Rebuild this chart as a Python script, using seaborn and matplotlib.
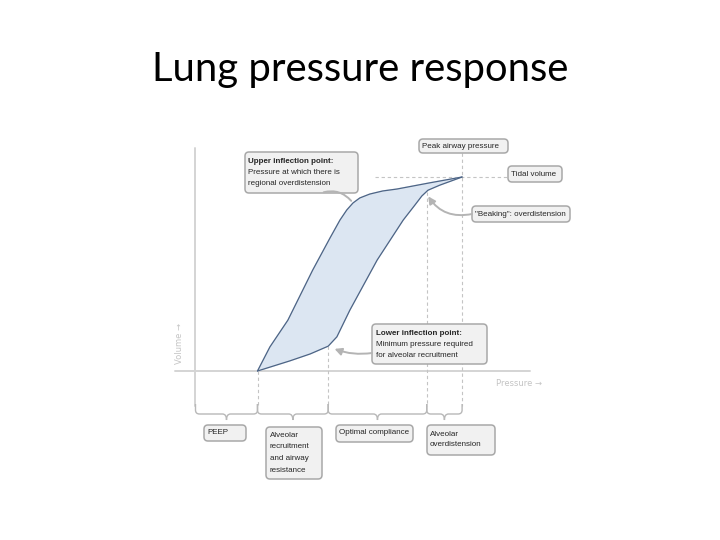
import matplotlib.pyplot as plt
import seaborn as sns
from matplotlib.patches import FancyBboxPatch, PathPatch
from matplotlib.path import Path

# pressure (cmH2O) / volume (mL)
upper_p = [10, 12.0, 14.9, 18.9, 21.7, 23.3, 24.4, 25.4, 26.5, 28.1, 30.2, 32.5, 37.8, 43]
upper_v = [0, 62, 131, 260, 343, 389, 415, 433, 446, 456, 464, 469, 485, 500]
lower_p = [10, 15.2, 18.5, 21.4, 22.8, 24.9, 29.3, 33.5, 35.4, 36.5, 37.5, 39.4, 43]
lower_v = [0, 26, 44, 64, 88, 157, 286, 389, 428, 451, 466, 479, 500]

peep = 10
lip_p, lip_v = 21.4, 64
uip_p = 37.3
peak_p = 43
tidal_v = 500

# zones under the pressure axis
zone_edges = [0, peep, lip_p, uip_p, peak_p]

sns.set_theme(style="white")
plt.rcParams['font.family'] = ['Liberation Sans', 'DejaVu Sans']

fig = plt.figure(figsize=(7.2, 5.4), dpi=100)

# data axes: origin at pixel (195.5, 371), 6.2 px / cmH2O, 0.388 px / mL
x0, y0, sx, sy = 195.5, 371, 6.2, 0.388
ax = fig.add_axes([0, 0, 1, 1])
ax.set_xlim(-x0 / sx, (720 - x0) / sx)
ax.set_ylim(-(540 - y0) / sy, y0 / sy)
ax.axis('off')

# layout layer in pixels for boxes and labels
lay = fig.add_axes([0, 0, 1, 1], zorder=3)
lay.set_xlim(0, 720)
lay.set_ylim(540, 0)
lay.axis('off')
lay.patch.set_alpha(0)

def to_px(p, v):
    return lay.transData.inverted().transform(ax.transData.transform((p, v)))

grey = '#d4d4d4'
low = -(406 - y0) / sy

# axes lines
ax.plot([0, 0], [(y0 - 148) / sy, low], color=grey, lw=1.4, zorder=1)
ax.plot([-3.3, 54], [0, 0], color=grey, lw=1.4, zorder=1)

# dashed guides
dash = dict(color='#c4c4c4', lw=0.8, ls=(0, (3, 2.5)), zorder=1)
ax.plot([peep, peep], [0, low], **dash)
ax.plot([lip_p, lip_p], [lip_v, low], **dash)
ax.plot([uip_p, uip_p], [461, low], **dash)
ax.plot([peak_p, peak_p], [(y0 - 153) / sy, low], **dash)
ax.plot([29, (508 - x0) / sx], [tidal_v, tidal_v], **dash)

# loop
ax.fill(upper_p + lower_p[::-1], upper_v + lower_v[::-1], color='#dce6f2', zorder=2)
sns.lineplot(x=upper_p, y=upper_v, sort=False, ax=ax, color='#4d6485', lw=0.9, zorder=3)
sns.lineplot(x=lower_p, y=lower_v, sort=False, ax=ax, color='#4d6485', lw=0.9, zorder=3)

# braces
for a, b in zip(zone_edges[:-1], zone_edges[1:]):
    xa = to_px(a, 0)[0]
    xb = to_px(b, 0)[0]
    m = (xa + xb) / 2
    verts = [(xa, 404), (xa, 410), (xa, 414), (xa + 4, 414), (m - 4, 414), (m, 414), (m, 420),
             (m, 414), (m + 4, 414), (xb - 4, 414), (xb, 414), (xb, 410), (xb, 404)]
    codes = [Path.MOVETO, Path.LINETO, Path.CURVE3, Path.CURVE3, Path.LINETO, Path.CURVE3, Path.CURVE3,
             Path.CURVE3, Path.CURVE3, Path.LINETO, Path.CURVE3, Path.CURVE3, Path.LINETO]
    lay.add_patch(PathPatch(Path(verts, codes), fc='none', ec='#b8b8b8', lw=1.0))

txt = '#262626'

def box(x1, y1, x2, y2, lines, tx, ty, dy=11, bold_first=False):
    lay.add_patch(FancyBboxPatch((x1, y1), x2 - x1, y2 - y1,
                                 boxstyle='round,pad=0,rounding_size=4',
                                 fc='#f1f1f1', ec='#a8a8a8', lw=1.1, zorder=2))
    for i, line in enumerate(lines):
        lay.text(tx, ty + i * dy, line, fontsize=5.8, color=txt, va='center', ha='left',
                 fontweight='bold' if (bold_first and i == 0) else 'normal', zorder=4)

box(245, 152, 358, 193, ['Upper inflection point:', 'Pressure at which there is',
                         'regional overdistension'], 248, 161.5, bold_first=True)
box(419, 139, 508, 153, ['Peak airway pressure'], 422, 146)
box(508, 166, 562, 182, ['Tidal volume'], 511, 174)
box(472, 206, 570, 222, ['"Beaking": overdistension'], 475, 214)
box(372, 324, 487, 364, ['Lower inflection point:', 'Minimum pressure required',
                         'for alveolar recruitment'], 376, 333.5, bold_first=True)
box(204, 425, 246, 441, ['PEEP'], 207, 433)
box(266, 427, 322, 479, ['Alveolar', 'recruitment', 'and airway', 'resistance'], 270, 435.5, dy=11.5)
box(336, 425, 413, 442, ['Optimal compliance'], 339, 433)
box(427, 425, 495, 455, ['Alveolar', 'overdistension'], 430, 434)

# connectors
conn = dict(color='#b4b4b4', lw=1.4)
lay.annotate('', xy=to_px(25.4, 433), xytext=(321, 193),
             arrowprops=dict(arrowstyle='-', connectionstyle='arc3,rad=-0.35', **conn))
lay.annotate('', xy=to_px(uip_p, 456), xytext=(472, 214),
             arrowprops=dict(arrowstyle='-|>,head_length=0.35,head_width=0.18',
                             connectionstyle='arc3,rad=-0.35', shrinkA=0, shrinkB=2, **conn))
lay.annotate('', xy=to_px(lip_p, lip_v), xytext=(372, 353),
             arrowprops=dict(arrowstyle='-|>,head_length=0.35,head_width=0.18',
                             connectionstyle='arc3,rad=-0.15', shrinkA=0, shrinkB=5, **conn))

# axis names
lay.text(180, 343, 'Volume \u2192', rotation=90, ha='center', va='center', fontsize=6,
         color='#c4c4c4', family=['DejaVu Sans'])
lay.text(519, 384, 'Pressure \u2192', ha='center', va='center', fontsize=6,
         color='#c4c4c4', family=['DejaVu Sans'])

fig.text(0.5, 1 - 81 / 540, 'Lung pressure response', ha='center', va='baseline',
         fontsize=28.8, color='black', family=['Lato', 'DejaVu Sans'])

fig.savefig('out.png', dpi=100)
